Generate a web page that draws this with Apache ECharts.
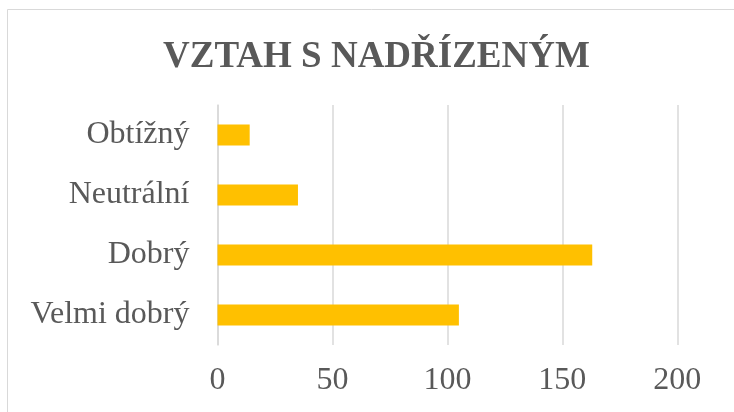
<!DOCTYPE html>
<html>
<head>
<meta charset="utf-8">
<script src="https://cdn.jsdelivr.net/npm/echarts@6/dist/echarts.min.js"></script>
<style>html,body{margin:0;padding:0;background:#fff;}#c{width:734px;height:412px;}</style>
</head>
<body>
<div id="c"></div>
<script>
const titleText = 'VZTAH S NADŘÍZENÝM';
const categories = ['Velmi dobrý', 'Dobrý', 'Neutrální', 'Obtížný'];
const values = [105, 163, 35, 14];
const xTicks = [0, 50, 100, 150, 200];

const chart = echarts.init(document.getElementById('c'), null, {renderer: 'canvas'});
const font = '"Liberation Serif", "Times New Roman", serif';
chart.setOption({
  backgroundColor: '#fff',
  animation: false,
  graphic: [{
    type: 'rect', shape: {x: 7.5, y: 9.5, width: 800, height: 500},
    style: {fill: 'none', stroke: '#d9d9d9', lineWidth: 1}, silent: true
  }],
  title: {
    text: titleText, left: 158, top: 34, padding: 5,
    textStyle: {fontFamily: font, fontSize: 37, fontWeight: 'bold', color: '#595959', lineHeight: 37}
  },
  grid: {left: 217.5, right: 56.7, top: 105, bottom: 67, containLabel: false},
  xAxis: {
    type: 'value', min: xTicks[0], max: xTicks[xTicks.length - 1], interval: 50,
    axisLine: {show: false}, axisTick: {show: false},
    splitLine: {show: true, lineStyle: {color: '#d9d9d9', width: 1.5}},
    axisLabel: {fontFamily: font, fontSize: 32, color: '#595959', margin: 20, lineHeight: 32}
  },
  yAxis: {
    type: 'category', data: categories,
    axisLine: {show: true, lineStyle: {color: '#d9d9d9', width: 1.5}},
    axisTick: {show: false},
    axisLabel: {fontFamily: font, fontSize: 32, color: '#595959', margin: 28}
  },
  series: [{
    type: 'bar', data: values, barWidth: '35%',
    itemStyle: {color: '#FFC000'}
  }]
});
</script>
</body>
</html>
